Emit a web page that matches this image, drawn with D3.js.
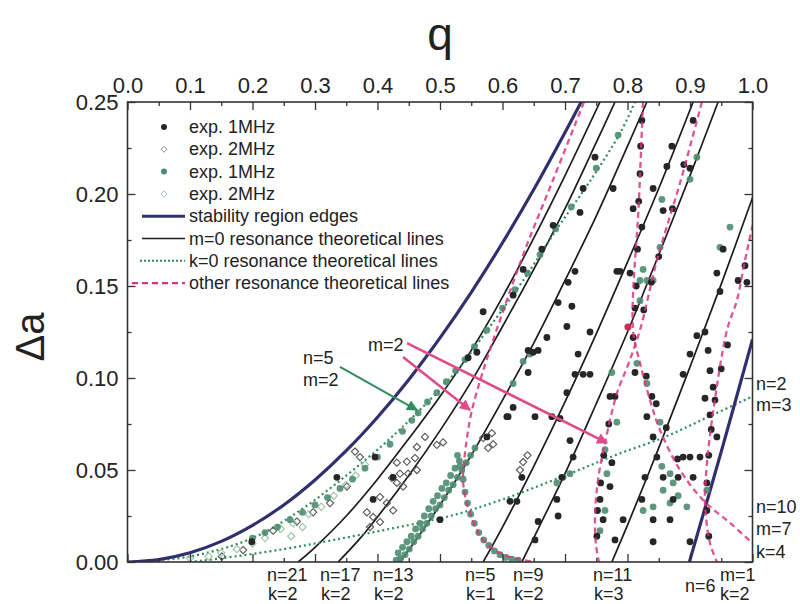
<!DOCTYPE html>
<html><head><meta charset="utf-8">
<script src="https://cdn.jsdelivr.net/npm/d3@7"></script>
<style>
body{margin:0;background:#fff}
svg{display:block}
text{font-family:"Liberation Sans",Arial,sans-serif;fill:#222}
</style>
</head><body>
<svg id="c" width="800" height="604"></svg>
<script>
// ---------------- data ----------------
const xTicks = [0.0,0.1,0.2,0.3,0.4,0.5,0.6,0.7,0.8,0.9,1.0];
const xMinor = [0.05,0.15,0.25,0.35,0.45,0.55,0.65,0.75,0.85,0.95];
const yTicks = [0.00,0.05,0.10,0.15,0.20,0.25];
const yMinor = [0.025,0.075,0.125,0.175,0.225];

// stability region edges
const edgeLeft = [[0,0],[0.05,0.0013],[0.1,0.005],[0.15,0.0112],[0.2,0.0199],[0.25,0.031],[0.3,0.0446],[0.35,0.0605],[0.4,0.0787],[0.45,0.0991],[0.5,0.1218],[0.55,0.1466],[0.6,0.1735],[0.65,0.2024],[0.7,0.2334],[0.73,0.2527]];
const edgeRight = [[0.899,0],[0.95,0.060],[1.0,0.121]];

// m=0 resonance lines
const m0L1 = [[0.273,0],[0.30,0.008],[0.35,0.025],[0.40,0.045],[0.45,0.067],[0.50,0.090],[0.55,0.115],[0.60,0.144],[0.65,0.176],[0.70,0.210],[0.756,0.25]];
const m0L2 = [[0.337,0],[0.37,0.012],[0.40,0.0245],[0.45,0.047],[0.50,0.0714],[0.55,0.098],[0.60,0.128],[0.65,0.159],[0.70,0.192],[0.75,0.228],[0.78,0.25]];
const m0L3 = [[0.436,0],[0.47,0.016],[0.50,0.031],[0.55,0.058],[0.60,0.088],[0.65,0.119],[0.70,0.153],[0.75,0.188],[0.80,0.226],[0.831,0.25]];
const m0L4 = [[0.569,0],[0.60,0.019],[0.65,0.052],[0.70,0.087],[0.75,0.124],[0.80,0.163],[0.85,0.203],[0.905,0.25]];
const m0L5 = [[0.631,0],[0.66,0.020],[0.70,0.048],[0.75,0.086],[0.80,0.125],[0.85,0.167],[0.90,0.210],[0.945,0.25]];
const m0L6 = [[0.775,0],[0.80,0.020],[0.85,0.062],[0.90,0.106],[0.95,0.151],[1.0,0.198]];

// k=0 resonance lines
const k0L1 = [[0,0],[0.1,0.003],[0.2,0.013],[0.276,0.028],[0.35,0.047],[0.41,0.064],[0.463,0.081],[0.527,0.104],[0.58,0.128],[0.633,0.153],[0.687,0.181],[0.74,0.207],[0.788,0.233],[0.812,0.25]];
const k0L2 = [[0.10,0],[0.15,0.002],[0.25,0.007],[0.33,0.012],[0.42,0.018],[0.516,0.025],[0.6,0.034],[0.7,0.047],[0.78,0.058],[0.86,0.068],[0.93,0.079],[1.0,0.090]];

// other resonance lines
const othL1 = [[0.7304,0.25],[0.6808,0.2076],[0.636,0.1696],[0.596,0.1315],[0.572,0.1071],[0.5512,0.0826],[0.5416,0.0636],[0.5368,0.0446],[0.5416,0.0337],[0.548,0.0266],[0.5576,0.0185],[0.5688,0.012],[0.588,0.0065],[0.6168,0.0022],[0.652,0.0]];
const othL2 = [[0.919,0.25],[0.884,0.206],[0.8472,0.1641],[0.82,0.1261],[0.8008,0.1071],[0.7832,0.0918],[0.764,0.0647],[0.7528,0.0446],[0.748,0.0245],[0.7496,0.0092],[0.7544,0]];
const othL3 = [[0.8248,0.25],[0.8184,0.197],[0.8088,0.1261],[0.82,0.1082],[0.836,0.088],[0.852,0.0717],[0.884,0.05],[0.9208,0.0337],[0.964,0.0212],[1.0,0.0103]];
const othL4 = [[1.004,0.1886],[0.988,0.164],[0.9752,0.1424],[0.9592,0.1261],[0.9368,0.081],[0.9272,0.0538],[0.924,0.0321],[0.932,0.0103],[0.9432,0]];

// experimental points
const exp1Black = [[0.199,0.011],[0.335,0.046],[0.396,0.057],[0.425,0.046],[0.393,0.034],[0.5,0.023],[0.545,0.111],
[0.559,0.114],[0.633,0.159],[0.663,0.170],[0.617,0.145],[0.681,0.183],[0.649,0.114],[0.711,0.139],[0.703,0.128],[0.641,0.115],[0.657,0.115],[0.703,0.092],[0.607,0.079],[0.652,0.079],[0.679,0.079],[0.617,0.084],[0.569,0.136],
[0.729,0.203],[0.748,0.220],[0.777,0.203],[0.724,0.190],[0.716,0.158],[0.705,0.152],[0.689,0.141],[0.740,0.125],[0.783,0.158],
[0.871,0.226],[0.863,0.215],[0.841,0.203],[0.900,0.214],[0.857,0.191],[0.809,0.192],[0.823,0.182],[0.788,0.158],[0.804,0.157],[0.943,0.157],[0.953,0.170],[0.948,0.147],[0.924,0.125],[0.988,0.161],[0.977,0.153],[0.991,0.152],[0.929,0.115],[0.932,0.104],[0.937,0.095],
[0.671,0.122],[0.721,0.113],[0.716,0.102],[0.729,0.102],[0.740,0.102],[0.641,0.103],[0.772,0.090],[0.692,0.078],[0.609,0.079],[0.575,0.068],[0.631,0.046],[0.708,0.066],[0.713,0.057],[0.695,0.046],[0.687,0.034],[0.623,0.033],[0.612,0.033],[0.657,0.022],[0.689,0.025],[0.652,0.012],[0.780,0.012],[0.756,0.034],[0.761,0.023],[0.772,0.041],[0.775,0.054],
[0.809,0.122],[0.900,0.113],[0.911,0.123],[0.812,0.103],[0.889,0.102],[0.839,0.090],[0.831,0.079],[0.841,0.068],[0.943,0.068],[0.847,0.057],[0.889,0.057],[0.900,0.057],[0.916,0.057],[0.828,0.046],[0.857,0.046],[0.881,0.046],[0.905,0.046],[0.823,0.034],[0.873,0.034],[0.793,0.023],[0.841,0.023],[0.868,0.023],[0.841,0.011],[0.900,0.011],[0.924,0.089],[0.932,0.080],
[0.823,0.240],[0.821,0.226],[0.820,0.211],[0.818,0.196],[0.816,0.170],[0.814,0.150],[0.812,0.138],
[0.905,0.240],[0.890,0.216],[0.872,0.192],[0.850,0.166],[0.838,0.152],[0.826,0.137],
[0.960,0.118],[0.950,0.105],[0.940,0.088],[0.934,0.072],[0.930,0.058],[0.927,0.043],[0.927,0.028],[0.930,0.014],
[0.830,0.101],[0.846,0.086],[0.862,0.073],[0.880,0.056],
[0.780,0.090],[0.770,0.075],[0.762,0.058],[0.757,0.043],[0.752,0.028],[0.751,0.014]];

const exp2Black = [[0.151,0.003],[0.185,0.0065],[0.233,0.017],[0.271,0.022],[0.297,0.027],[0.324,0.032],[0.351,0.041],[0.364,0.060],[0.372,0.057],[0.431,0.054],[0.447,0.0545],[0.460,0.0565],[0.476,0.068],[0.495,0.0636],[0.505,0.065],[0.436,0.048],[0.449,0.048],[0.463,0.050],[0.431,0.043],[0.441,0.041],[0.423,0.0457],[0.404,0.0353],[0.415,0.032],[0.425,0.028],[0.383,0.027],[0.393,0.0245],[0.404,0.0217],[0.388,0.019],[0.463,0.0625],[0.569,0.0674],[0.583,0.070],[0.585,0.064],[0.577,0.062],[0.633,0.0543],[0.628,0.050],[0.640,0.058]];

const exp1Green = [[0.20,0.013],[0.22,0.016],[0.24,0.019],[0.26,0.023],[0.28,0.027],[0.30,0.031],[0.32,0.035],[0.34,0.040],[0.36,0.045],[0.38,0.051],[0.40,0.057],[0.42,0.064],[0.44,0.071],[0.455,0.077],[0.465,0.081],[0.48,0.087],[0.495,0.092],[0.51,0.098],[0.525,0.104],[0.54,0.110],[0.555,0.117],[0.575,0.126],[0.60,0.138],[0.62,0.148],[0.64,0.157],[0.66,0.167],[0.685,0.181],[0.71,0.193],[0.75,0.214],[0.785,0.232],
[0.430,0.001],[0.437,0.002],[0.444,0.004],[0.451,0.007],[0.458,0.011],[0.465,0.014],[0.472,0.018],[0.479,0.021],[0.486,0.025],[0.493,0.029],[0.500,0.031],[0.507,0.035],[0.514,0.039],[0.521,0.042],[0.528,0.046],[0.535,0.050],[0.542,0.054],[0.549,0.058],[0.556,0.062],
[0.433,0.005],[0.440,0.008],[0.447,0.011],[0.454,0.014],[0.461,0.018],[0.468,0.021],[0.475,0.025],[0.482,0.029],[0.489,0.033],[0.496,0.036],[0.503,0.040],[0.510,0.043],[0.517,0.047],[0.524,0.051],[0.531,0.055],
[0.537,0.045],[0.540,0.038],[0.544,0.032],[0.549,0.026],[0.555,0.021],[0.562,0.016],[0.570,0.012],[0.578,0.009],[0.587,0.006],[0.596,0.004],[0.605,0.0025],[0.615,0.0015],[0.625,0.001],[0.532,0.052],[0.528,0.058],
[0.900,0.208],[0.911,0.220],[0.964,0.182],[0.855,0.197],[0.852,0.171],[0.825,0.159],[0.820,0.153],[0.831,0.153],[0.841,0.153],[0.820,0.142],[0.948,0.171],[0.815,0.108],[0.831,0.097],[0.852,0.076],[0.868,0.048],[0.873,0.043],[0.881,0.036],[0.857,0.039],[0.841,0.030],[0.825,0.028],[0.868,0.032],[0.895,0.030],[0.855,0.052],[0.927,0.039],[0.617,0.097],[0.697,0.046],[0.708,0.048],[0.687,0.043],[0.764,0.061],[0.767,0.048],[0.764,0.028],[0.756,0.017],[0.633,0.109],[0.644,0.113],[0.775,0.103],[0.783,0.076]];

const exp2Green = [[0.10,0.002],[0.13,0.003],[0.15,0.005],[0.175,0.007],[0.20,0.010],[0.22,0.013],[0.245,0.018],[0.265,0.021],[0.29,0.026],[0.31,0.030],[0.33,0.036],[0.35,0.042],[0.365,0.047],[0.38,0.053],[0.262,0.014],[0.28,0.019]];

const extraRed = [[0.8008,0.1277]];

// arrows [from, to]
const arrowGreen = [[0.340,0.106],[0.4632,0.0826]];
const arrowPink1 = [[0.4408,0.1114],[0.548,0.0826]];
const arrowPink2 = [[0.4472,0.119],[0.7672,0.0647]];

const legendLabels = ["exp. 1MHz","exp. 2MHz","exp. 1MHz","exp. 2MHz","stability region edges","m=0 resonance theoretical lines","k=0 resonance theoretical lines","other resonance theoretical lines"];

// ---------------- drawing ----------------
const svg = d3.select("#c");
const X0 = 127.5, X1 = 752.5, Y0 = 562, Y1 = 102;
const x = d3.scaleLinear().domain([0,1]).range([X0,X1]);
const y = d3.scaleLinear().domain([0,0.25]).range([Y0,Y1]);

const C = {navy:"#30306e", black:"#1c1c1c", green:"#2f8c5c", pink:"#d8367f", gDot:"#4d8b70", gOpen:"#9cc7a8", dia:"#555"};

svg.append("rect").attr("width",800).attr("height",604).attr("fill","#fff");
const defs = svg.append("defs");
defs.append("clipPath").attr("id","clip").append("rect")
  .attr("x",X0).attr("y",Y1).attr("width",X1-X0).attr("height",Y0-Y1);
function mk(id,color){
  defs.append("marker").attr("id",id).attr("viewBox","0 0 10 10").attr("refX",9).attr("refY",5)
    .attr("markerUnits","userSpaceOnUse").attr("markerWidth",14).attr("markerHeight",11).attr("orient","auto")
    .append("path").attr("d","M0,0L10,5L0,10z").attr("fill",color);
}
mk("arG",C.green); mk("arP","#e04a8a");

const line = d3.line().x(d=>x(d[0])).y(d=>y(d[1])).curve(d3.curveCatmullRom.alpha(0.5));
const plot = svg.append("g").attr("clip-path","url(#clip)");

function curve(data,color,w,dash){
  const p = plot.append("path").datum(data).attr("d",line).attr("fill","none")
    .attr("stroke",color).attr("stroke-width",w).attr("stroke-linecap","butt");
  if(dash) p.attr("stroke-dasharray",dash);
  return p;
}
[m0L1,m0L2,m0L3,m0L4,m0L5,m0L6].forEach(d=>curve(d,C.black,1.7));
[k0L1,k0L2].forEach(d=>curve(d,C.green,2.2,"2,3"));
[edgeLeft,edgeRight].forEach(d=>curve(d,C.navy,3.2));

// points
const dia = "M0,-3.6L3.6,0L0,3.6L-3.6,0Z";
plot.append("g").selectAll("path").data(exp2Black).join("path")
  .attr("d",dia).attr("transform",d=>`translate(${x(d[0])},${y(d[1])})`)
  .attr("fill","none").attr("stroke",C.dia).attr("stroke-width",1.1);
plot.append("g").selectAll("path").data(exp2Green).join("path")
  .attr("d",dia).attr("transform",d=>`translate(${x(d[0])},${y(d[1])})`)
  .attr("fill","none").attr("stroke",C.gOpen).attr("stroke-width",1.2);
plot.append("g").selectAll("circle").data(exp1Green).join("circle")
  .attr("cx",d=>x(d[0])).attr("cy",d=>y(d[1])).attr("r",3.4).attr("fill",C.gDot).attr("opacity",0.9);
plot.append("g").selectAll("circle").data(exp1Black).join("circle")
  .attr("cx",d=>x(d[0])).attr("cy",d=>y(d[1])).attr("r",3.4).attr("fill","#262626");
plot.append("g").selectAll("circle").data(extraRed).join("circle")
  .attr("cx",d=>x(d[0])).attr("cy",d=>y(d[1])).attr("r",3.6).attr("fill","#c8305a");

[othL1,othL2,othL3,othL4].forEach(d=>curve(d,C.pink,2.3,"6,4").attr("opacity",0.85));

// arrows
function arrow(a,color,mid,w){
  svg.append("line").attr("x1",x(a[0][0])).attr("y1",y(a[0][1])).attr("x2",x(a[1][0])).attr("y2",y(a[1][1]))
    .attr("stroke",color).attr("stroke-width",w).attr("marker-end",`url(#${mid})`);
}
arrow(arrowGreen,C.green,"arG",2);
arrow(arrowPink1,"#e04a8a","arP",2.5);
arrow(arrowPink2,"#e04a8a","arP",2.5);

// axes
function ax(gen, tr, vals, size, fmt){
  const g = svg.append("g").attr("transform",tr)
    .call(gen.tickValues(vals).tickSize(size).tickPadding(9).tickFormat(fmt));
  g.select(".domain").remove();
  g.selectAll("line").attr("stroke","#333").attr("stroke-width",1.3);
  g.selectAll("text").attr("font-size",22).attr("fill","#222").attr("font-family","Liberation Sans, Arial, sans-serif");
  return g;
}
const f1 = d3.format(".1f"), f2 = d3.format(".2f"), none = ()=>"";
ax(d3.axisTop(x), `translate(0,${Y1})`, xTicks, -8, f1);
ax(d3.axisTop(x), `translate(0,${Y1})`, xMinor, -4, none);
ax(d3.axisBottom(x), `translate(0,${Y0})`, xTicks, -8, none);
ax(d3.axisBottom(x), `translate(0,${Y0})`, xMinor, -4, none);
ax(d3.axisLeft(y), `translate(${X0},0)`, yTicks, -8, f2);
ax(d3.axisLeft(y), `translate(${X0},0)`, yMinor, -4, none);
ax(d3.axisRight(y), `translate(${X1},0)`, yTicks, -8, none);
ax(d3.axisRight(y), `translate(${X1},0)`, yMinor, -4, none);

svg.append("rect").attr("x",X0).attr("y",Y1).attr("width",X1-X0).attr("height",Y0-Y1)
  .attr("fill","none").attr("stroke","#333").attr("stroke-width",1.6);

// axis titles
svg.append("text").attr("x",440).attr("y",50).attr("text-anchor","middle").attr("font-size",46).text("q");
svg.append("text").attr("transform","translate(44,337) rotate(-90)").attr("text-anchor","middle").attr("font-size",40).text("Δa");

// legend
const lg = svg.append("g").attr("font-size",18);
legendLabels.forEach((t,i)=>{
  const by = 133 + 22.3*i, cy = by - 6;
  lg.append("text").attr("x",189).attr("y",by).text(t);
  if(i===0) lg.append("circle").attr("cx",164).attr("cy",cy).attr("r",3).attr("fill","#262626");
  if(i===1) lg.append("path").attr("d","M0,-3L3,0L0,3L-3,0Z").attr("transform",`translate(164,${cy})`).attr("fill","none").attr("stroke","#888").attr("stroke-width",1);
  if(i===2) lg.append("circle").attr("cx",164).attr("cy",cy).attr("r",3).attr("fill",C.gDot);
  if(i===3) lg.append("path").attr("d","M0,-3L3,0L0,3L-3,0Z").attr("transform",`translate(164,${cy})`).attr("fill","none").attr("stroke",C.gOpen).attr("stroke-width",1);
  const seg = (color,w,dash,x0)=>{const l=lg.append("line").attr("x1",x0).attr("x2",185).attr("y1",cy).attr("y2",cy).attr("stroke",color).attr("stroke-width",w); if(dash) l.attr("stroke-dasharray",dash);};
  if(i===4) seg(C.navy,3,null,142);
  if(i===5) seg(C.black,1.7,null,142);
  if(i===6) seg(C.green,2,"2,2",140);
  if(i===7) seg(C.pink,2.2,"6,4",132);
});

// annotations
const an = svg.append("g").attr("font-size",18);
const T = (s,xx,yy)=>an.append("text").attr("x",xx).attr("y",yy).text(s);
T("n=5",303,364); T("m=2",303,386); T("m=2",368,351);
T("n=2",756,390); T("m=3",756,411); T("n=10",756,513); T("m=7",756,535); T("k=4",756,558);
T("n=21",267,581); T("k=2",268,600);
T("n=17",320,581); T("k=2",321,600);
T("n=13",373,581); T("k=2",374,600);
T("n=5",465,581); T("k=1",466,600);
T("n=9",513,581); T("k=2",514,600);
T("n=11",593,581); T("k=3",594,600);
T("n=6",685,592);
T("m=1",720,581); T("k=2",720,600);
</script>
</body></html>
